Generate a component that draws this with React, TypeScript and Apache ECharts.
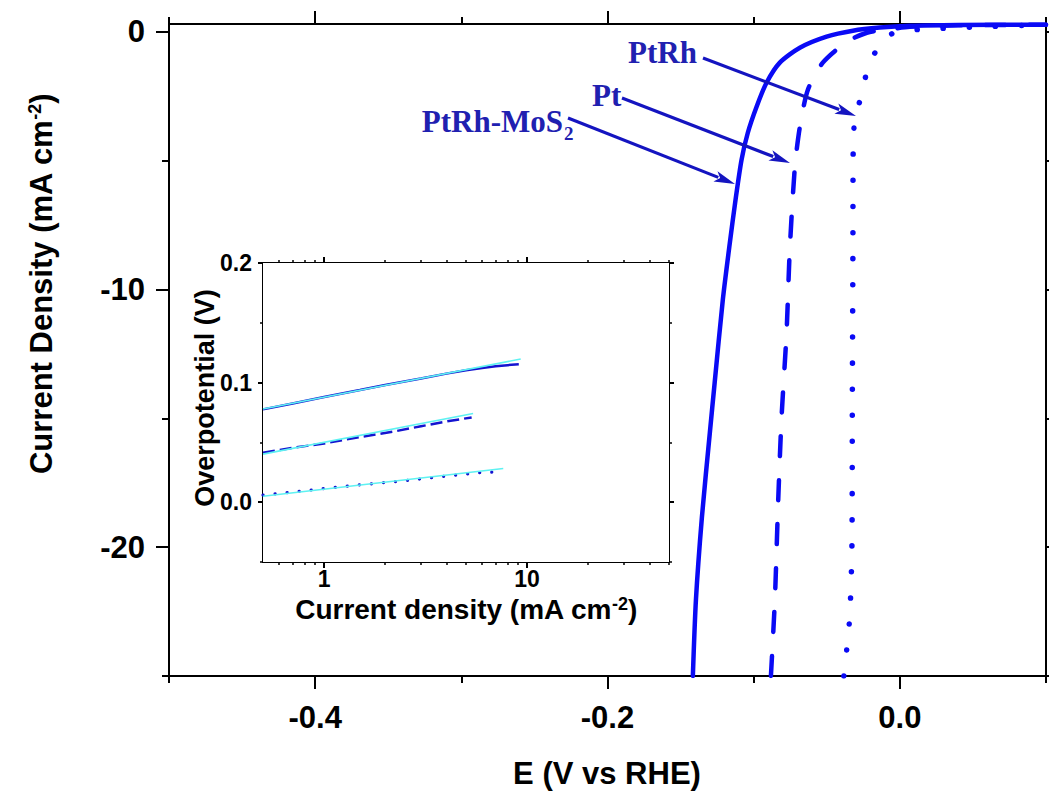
import React, { useEffect, useRef } from "react";
import * as echarts from "echarts";

// ---------- main LSV curves (E in V vs RHE, J in mA cm^-2) ----------
const MOS2_E = [-0.1416, -0.1395, -0.1354, -0.13, -0.1267, -0.1211, -0.1163, -0.1124, -0.1083, -0.104, -0.098, -0.0912, -0.0821, -0.0684, -0.0501, -0.0321, -0.0137, 0.0068, 0.04, 0.1];
const MOS2_J = [-25, -22.05, -18.83, -15.57, -13.63, -10.4, -8.19, -6.52, -4.97, -3.92, -2.91, -1.98, -1.2, -0.62, -0.19, 0.04, 0.16, 0.23, 0.26, 0.27];

const PT_E = [-0.0882, -0.0855, -0.0832, -0.0809, -0.0775, -0.0753, -0.0718, -0.0684, -0.0629, -0.0527, -0.0362, -0.0226, -0.0089, 0.0068, 0.04, 0.1];
const PT_J = [-25, -22.05, -18.17, -14.95, -11.68, -8.46, -5.24, -3.69, -2.25, -1.2, -0.39, -0.04, 0.08, 0.19, 0.25, 0.27];

const PTRH_E = [-0.0383, -0.0358, -0.0342, -0.0328, -0.0325, -0.0321, -0.0319, -0.0308, -0.0262, -0.0217, -0.0125, -0.0023, 0.0253, 0.0547, 0.1];
const PTRH_J = [-25, -23.68, -22.63, -20.11, -14.29, -8.46, -4.46, -3.42, -2.45, -1.4, -0.39, 0.0, 0.12, 0.19, 0.27];

const MAIN_X_MAJOR = [-0.4, -0.2, 0.0];
const MAIN_X_MINOR = [-0.5, -0.3, -0.1, 0.1];
const MAIN_Y_MAJOR = [-20, -10, 0];
const MAIN_Y_MINOR = [-25, -15, -5];

// ---------- inset Tafel plots (j in mA cm^-2, overpotential in V) ----------
const TAFEL_MOS2_J = [0.5, 0.7, 1, 1.5, 2, 3, 4, 5, 6, 7, 8, 9.1];
const TAFEL_MOS2_ETA = [0.0776, 0.0826, 0.0879, 0.0938, 0.098, 0.1035, 0.1075, 0.1103, 0.1122, 0.1136, 0.1146, 0.1153];
const FIT_MOS2_J = [0.5, 9.3];
const FIT_MOS2_ETA = [0.0779, 0.1197];

const TAFEL_PT_J = [0.5, 0.7, 1, 1.5, 2.18, 3, 4, 5.33];
const TAFEL_PT_ETA = [0.0413, 0.0455, 0.0491, 0.0545, 0.0589, 0.0635, 0.0675, 0.0709];
const FIT_PT_J = [0.5, 5.42];
const FIT_PT_ETA = [0.0402, 0.0742];

const TAFEL_PTRH_J = [0.5, 0.7, 1, 1.5, 2.18, 3, 4, 5.6, 7.08];
const TAFEL_PTRH_ETA = [0.0059, 0.0085, 0.0114, 0.0145, 0.017, 0.0195, 0.0218, 0.0245, 0.0254];
const FIT_PTRH_J = [0.5, 7.63];
const FIT_PTRH_ETA = [0.005, 0.0282];

const INSET_X_MAJOR = [1, 10];
const INSET_X_MINOR = [0.6, 0.7, 0.8, 0.9, 2, 3, 4, 5, 6, 7, 8, 9, 20, 30, 40, 50];
const INSET_Y_MAJOR = [0, 0.1, 0.2];
const INSET_Y_MINOR = [-0.05, 0.05, 0.15];

const SANS = "'Liberation Sans', Arial, Helvetica, sans-serif";
const SERIF = "'Liberation Serif', 'Times New Roman', Times, serif";
const CURVE = "#0a0af5";
const INK = "#2020b0";
const ARROW = "#1414c0";
const CYAN = "#5ef2f2";

const zip = (xs: number[], ys: number[]) => xs.map((x, i) => [x, ys[i]]);

function axis(opts: any) {
  const { gridIndex, position, type, min, max, ticks, len, lw, label } = opts;
  return {
    type,
    logBase: 10,
    gridIndex,
    position,
    min,
    max,
    axisLine: { show: true, onZero: false, lineStyle: { color: "#000", width: lw } },
    axisTick: { show: true, inside: false, length: len, customValues: ticks, lineStyle: { color: "#000", width: lw } },
    axisLabel: label ? label : { show: false },
    splitLine: { show: false },
    minorTick: { show: false },
    splitArea: { show: false },
  };
}

function arrow(x1: number, y1: number, x2: number, y2: number) {
  const dx = x2 - x1, dy = y2 - y1;
  const L = Math.hypot(dx, dy);
  const ux = dx / L, uy = dy / L;
  const hl = 21, hw = 5.5;
  const bx = x2 - ux * hl, by = y2 - uy * hl;
  return [
    { type: "line", z: 50, shape: { x1, y1, x2: bx + ux * 3, y2: by + uy * 3 }, style: { stroke: ARROW, lineWidth: 3.2 } },
    {
      type: "polygon",
      z: 50,
      shape: { points: [[x2, y2], [bx - uy * hw, by + ux * hw], [bx + ux * 5, by + uy * 5], [bx + uy * hw, by - ux * hw]] },
      style: { fill: ARROW },
    },
  ];
}

const mainLabel = (fmt: (v: number) => string, customValues: number[], margin: number) => ({
  show: true,
  customValues,
  formatter: fmt,
  margin,
  fontSize: 31,
  fontWeight: "bold",
  fontFamily: SANS,
  color: "#000",
});

const insetLabel = (fmt: (v: number) => string, customValues: number[], margin: number) => ({
  show: true,
  customValues,
  formatter: fmt,
  margin,
  fontSize: 23,
  fontWeight: "bold",
  fontFamily: SANS,
  color: "#000",
});

const option: any = {
  animation: false,
  backgroundColor: "#fff",
  grid: [
    { left: 169, top: 24, width: 877, height: 652, show: false },
    { left: 263, top: 263, width: 406, height: 299, show: true, backgroundColor: "#fff", borderWidth: 0, z: 5 },
  ],
  xAxis: [
    axis({ gridIndex: 0, position: "bottom", type: "value", min: -0.5, max: 0.1, ticks: MAIN_X_MAJOR, len: 13, lw: 2,
      label: mainLabel((v) => v.toFixed(1), MAIN_X_MAJOR, 26) }),
    axis({ gridIndex: 0, position: "bottom", type: "value", min: -0.5, max: 0.1, ticks: MAIN_X_MINOR, len: 7, lw: 2 }),
    axis({ gridIndex: 0, position: "top", type: "value", min: -0.5, max: 0.1, ticks: MAIN_X_MAJOR, len: 13, lw: 2 }),
    axis({ gridIndex: 0, position: "top", type: "value", min: -0.5, max: 0.1, ticks: MAIN_X_MINOR, len: 7, lw: 2 }),
    axis({ gridIndex: 1, position: "bottom", type: "log", min: 0.5, max: 50, ticks: INSET_X_MAJOR, len: 6, lw: 2,
      label: insetLabel((v) => String(Math.round(v)), INSET_X_MAJOR, 5) }),
    axis({ gridIndex: 1, position: "bottom", type: "log", min: 0.5, max: 50, ticks: INSET_X_MINOR, len: 3, lw: 1.5 }),
    axis({ gridIndex: 1, position: "top", type: "log", min: 0.5, max: 50, ticks: INSET_X_MAJOR, len: 6, lw: 2 }),
    axis({ gridIndex: 1, position: "top", type: "log", min: 0.5, max: 50, ticks: INSET_X_MINOR, len: 3, lw: 1.5 }),
  ],
  yAxis: [
    axis({ gridIndex: 0, position: "left", type: "value", min: -25, max: 0.3, ticks: MAIN_Y_MAJOR, len: 13, lw: 2,
      label: mainLabel((v) => String(Math.round(v)), MAIN_Y_MAJOR, 24) }),
    axis({ gridIndex: 0, position: "left", type: "value", min: -25, max: 0.3, ticks: MAIN_Y_MINOR, len: 7, lw: 2 }),
    axis({ gridIndex: 0, position: "right", type: "value", min: -25, max: 0.3, ticks: MAIN_Y_MAJOR, len: 13, lw: 2 }),
    axis({ gridIndex: 0, position: "right", type: "value", min: -25, max: 0.3, ticks: MAIN_Y_MINOR, len: 7, lw: 2 }),
    axis({ gridIndex: 1, position: "left", type: "value", min: -0.05, max: 0.2, ticks: INSET_Y_MAJOR, len: 5, lw: 2,
      label: insetLabel((v) => v.toFixed(1), INSET_Y_MAJOR, 11) }),
    axis({ gridIndex: 1, position: "left", type: "value", min: -0.05, max: 0.2, ticks: INSET_Y_MINOR, len: 3, lw: 1.5 }),
    axis({ gridIndex: 1, position: "right", type: "value", min: -0.05, max: 0.2, ticks: INSET_Y_MAJOR, len: 5, lw: 2 }),
    axis({ gridIndex: 1, position: "right", type: "value", min: -0.05, max: 0.2, ticks: INSET_Y_MINOR, len: 3, lw: 1.5 }),
  ],
  series: [
    { name: "PtRh-MoS2", type: "line", xAxisIndex: 0, yAxisIndex: 0, data: zip(MOS2_E, MOS2_J), showSymbol: false, smooth: 0.25,
      lineStyle: { color: CURVE, width: 4.5, cap: "round", join: "round" } },
    { name: "Pt", type: "line", xAxisIndex: 0, yAxisIndex: 0, data: zip(PT_E, PT_J), showSymbol: false, smooth: 0.25,
      lineStyle: { color: CURVE, width: 4.5, type: [20, 24], cap: "round", join: "round" } },
    { name: "PtRh", type: "line", xAxisIndex: 0, yAxisIndex: 0, data: zip(PTRH_E, PTRH_J), showSymbol: false, smooth: 0.25,
      lineStyle: { color: CURVE, width: 5.5, type: [0.1, 26], cap: "round", join: "round" } },

    { name: "Tafel PtRh-MoS2", type: "line", xAxisIndex: 4, yAxisIndex: 4, data: zip(TAFEL_MOS2_J, TAFEL_MOS2_ETA), showSymbol: false, z: 6,
      lineStyle: { color: "#1414d0", width: 2.5 } },
    { name: "Tafel Pt", type: "line", xAxisIndex: 4, yAxisIndex: 4, data: zip(TAFEL_PT_J, TAFEL_PT_ETA), showSymbol: false, z: 6,
      lineStyle: { color: "#1414d0", width: 2.5, type: [12, 5] } },
    { name: "Tafel PtRh", type: "line", xAxisIndex: 4, yAxisIndex: 4, data: zip(TAFEL_PTRH_J, TAFEL_PTRH_ETA), showSymbol: false, z: 6,
      lineStyle: { color: "#1414d0", width: 3.2, type: [0.1, 12], cap: "round" } },
    { name: "Fit PtRh-MoS2", type: "line", xAxisIndex: 4, yAxisIndex: 4, data: zip(FIT_MOS2_J, FIT_MOS2_ETA), showSymbol: false, z: 7,
      lineStyle: { color: CYAN, width: 1.6 } },
    { name: "Fit Pt", type: "line", xAxisIndex: 4, yAxisIndex: 4, data: zip(FIT_PT_J, FIT_PT_ETA), showSymbol: false, z: 7,
      lineStyle: { color: CYAN, width: 1.6 } },
    { name: "Fit PtRh", type: "line", xAxisIndex: 4, yAxisIndex: 4, data: zip(FIT_PTRH_J, FIT_PTRH_ETA), showSymbol: false, z: 7,
      lineStyle: { color: CYAN, width: 1.6 } },
  ],
  graphic: [
    {
      type: "text", x: 41, y: 284, rotation: Math.PI / 2, z: 100,
      style: {
        text: "Current Density (mA cm{sup|-2})",
        fontSize: 31, fontWeight: "bold", fontFamily: SANS, fill: "#000",
        align: "center", verticalAlign: "middle",
        rich: { sup: { fontSize: 18, fontWeight: "bold", fontFamily: SANS, fill: "#000", verticalAlign: "top", lineHeight: 18 } },
      },
    },
    {
      type: "text", x: 607, y: 773, z: 100,
      style: { text: "E (V vs RHE)", fontSize: 31, fontWeight: "bold", fontFamily: SANS, fill: "#000", align: "center", verticalAlign: "middle" },
    },
    {
      type: "text", x: 205, y: 398, rotation: Math.PI / 2, z: 100,
      style: { text: "Overpotential (V)", fontSize: 27, fontWeight: "bold", fontFamily: SANS, fill: "#000", align: "center", verticalAlign: "middle" },
    },
    {
      type: "text", x: 466, y: 609, z: 100,
      style: {
        text: "Current density (mA cm{sup|-2})",
        fontSize: 28, fontWeight: "bold", fontFamily: SANS, fill: "#000",
        align: "center", verticalAlign: "middle",
        rich: { sup: { fontSize: 18, fontWeight: "bold", fontFamily: SANS, fill: "#000", verticalAlign: "top", lineHeight: 18 } },
      },
    },
    {
      type: "text", x: 628, y: 52, z: 100,
      style: { text: "PtRh", fontSize: 31, fontWeight: "bold", fontFamily: SERIF, fill: INK, align: "left", verticalAlign: "middle" },
    },
    {
      type: "text", x: 592, y: 95, z: 100,
      style: { text: "Pt", fontSize: 31, fontWeight: "bold", fontFamily: SERIF, fill: INK, align: "left", verticalAlign: "middle" },
    },
    {
      type: "text", x: 563, y: 121, z: 100,
      style: { text: "PtRh-MoS", fontSize: 31, fontWeight: "bold", fontFamily: SERIF, fill: INK, align: "right", verticalAlign: "middle" },
    },
    {
      type: "text", x: 564, y: 133, z: 100,
      style: { text: "2", fontSize: 19, fontWeight: "bold", fontFamily: SERIF, fill: INK, align: "left", verticalAlign: "middle" },
    },
    ...arrow(703, 58, 856, 116),
    ...arrow(622, 98, 790, 163),
    ...arrow(568, 118, 735, 184),
  ],
};

export default function App() {
  const ref = useRef<HTMLDivElement>(null);
  useEffect(() => {
    document.body.style.margin = "0";
    const chart = echarts.init(ref.current as HTMLDivElement, null, { renderer: "svg" });
    chart.setOption(option);
    return () => chart.dispose();
  }, []);
  return <div ref={ref} style={{ width: 1049, height: 798 }} />;
}
